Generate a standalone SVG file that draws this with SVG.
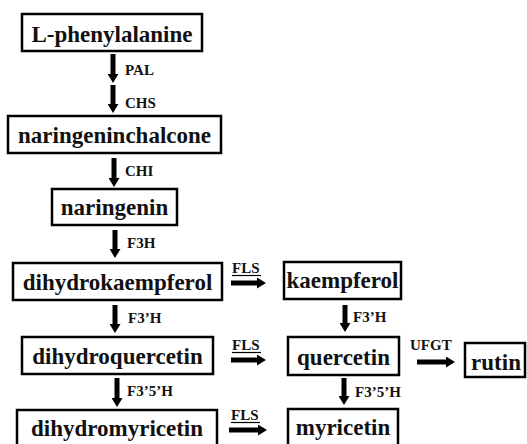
<svg xmlns="http://www.w3.org/2000/svg" width="527" height="444" viewBox="0 0 527 444">
<style>
.box{fill:#fff;stroke:#000;stroke-width:2.5}
.t{font-family:'Liberation Serif','Times New Roman','DejaVu Serif',serif;font-weight:bold;font-size:23px;fill:#111;text-anchor:middle}
.e{font-family:'Liberation Serif','Times New Roman','DejaVu Serif',serif;font-weight:bold;font-size:15px;fill:#111}
.a{stroke:#000;stroke-width:5;fill:none;marker-end:url(#ah)}
.u{stroke:#000;stroke-width:1.2}
</style>
<defs>
<marker id="ah" viewBox="0 -5.5 9 11" refX="0" refY="0" markerWidth="9" markerHeight="11" markerUnits="userSpaceOnUse" orient="auto">
<path d="M0,-5.5 L9,0 L0,5.5 Z" fill="#000"/>
</marker>
</defs>
<rect width="527" height="444" fill="#fff"/>
<g id="n-phe"><rect class="box" x="22" y="14" width="180" height="37"/><text class="t" x="112" y="42">L-phenylalanine</text></g>
<g id="n-chalcone"><rect class="box" x="8" y="116" width="213" height="37"/><text class="t" x="114.5" y="143">naringeninchalcone</text></g>
<g id="n-naringenin"><rect class="box" x="52" y="189" width="125" height="36"/><text class="t" x="114.5" y="215">naringenin</text></g>
<g id="n-dhk"><rect class="box" x="13" y="263" width="209" height="37"/><text class="t" x="117.5" y="290">dihydrokaempferol</text></g>
<g id="n-dhq"><rect class="box" x="22" y="337" width="191" height="37"/><text class="t" x="117.5" y="364">dihydroquercetin</text></g>
<g id="n-dhm"><rect class="box" x="17" y="410" width="200" height="40"/><text class="t" x="117" y="436">dihydromyricetin</text></g>
<g id="n-kaempferol"><rect class="box" x="284" y="262" width="117" height="37"/><text class="t" x="342.5" y="288">kaempferol</text></g>
<g id="n-quercetin"><rect class="box" x="288" y="337" width="111" height="38"/><text class="t" x="343.5" y="365">quercetin</text></g>
<g id="n-myricetin"><rect class="box" x="288" y="409" width="110" height="40"/><text class="t" x="343" y="435">myricetin</text></g>
<g id="n-rutin"><rect class="box" x="465" y="343" width="60" height="34"/><text class="t" x="496" y="370">rutin</text></g>
<g id="connectors">
<line class="a" x1="113" y1="54" x2="113" y2="74"/>
<line class="a" x1="113" y1="85" x2="113" y2="104"/>
<line class="a" x1="114" y1="158" x2="114" y2="178"/>
<line class="a" x1="115" y1="230" x2="115" y2="249"/>
<line class="a" x1="115" y1="305" x2="115" y2="324"/>
<line class="a" x1="117" y1="378" x2="117" y2="398"/>
<line class="a" x1="345" y1="305" x2="345" y2="323"/>
<line class="a" x1="344" y1="378" x2="344" y2="396"/>
<line class="a" x1="231" y1="283" x2="257" y2="283"/>
<line class="a" x1="231" y1="360" x2="257" y2="360"/>
<line class="a" x1="229" y1="430" x2="258" y2="430"/>
<line class="a" x1="417" y1="362" x2="446" y2="362"/>
</g>
<g id="labels">
<text class="e" x="125" y="75">PAL</text>
<text class="e" x="125" y="108">CHS</text>
<text class="e" x="125" y="176">CHI</text>
<text class="e" x="127" y="248">F3H</text>
<text class="e" x="128" y="323">F3’H</text>
<text class="e" x="127" y="396">F3’5’H</text>
<text class="e" x="353" y="322">F3’H</text>
<text class="e" x="355" y="397">F3’5’H</text>
<text class="e" x="232" y="273">FLS</text>
<line class="u" x1="232" y1="275.5" x2="261" y2="275.5"/>
<text class="e" x="232" y="350">FLS</text>
<line class="u" x1="232" y1="352.5" x2="261" y2="352.5"/>
<text class="e" x="231" y="420">FLS</text>
<line class="u" x1="231" y1="422.5" x2="260" y2="422.5"/>
<text class="e" x="410" y="350">UFGT</text>
</g>
</svg>
